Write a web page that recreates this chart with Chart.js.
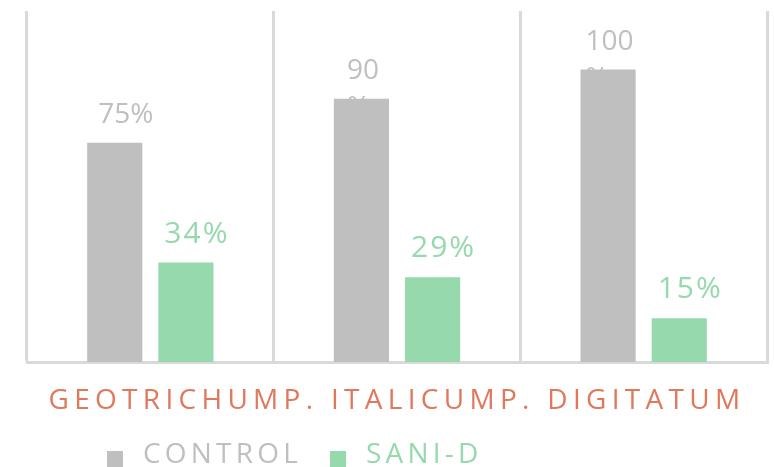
<!DOCTYPE html>
<html>
<head>
<meta charset="utf-8">
<script src="https://cdn.jsdelivr.net/npm/chart.js@4.4.1/dist/chart.umd.min.js"></script>
<style>
  body { margin: 0; background: #fff; }
  canvas { display: block; }
</style>
</head>
<body>
<canvas id="chart" width="774" height="467"></canvas>
<script>
// data
const categories = ['GEOTRICHUM', 'P. ITALICUM', 'P. DIGITATUM'];
const seriesNames = ['CONTROL', 'SANI-D'];
const controlValues = [75, 90, 100];
const saniValues = [34, 29, 15];
const controlLabels = [['75%'], ['90', '%'], ['100', '%']];
const saniLabels = [['34%'], ['29%'], ['15%']];
const yMax = 120;

const grey = '#bfbfbf';
const green = '#95d9ad';
const orange = '#e0785c';
const gridColor = '#d9d9d9';
const fontFamily = '"Open Sans", sans-serif';

const valueLabels = [controlLabels, saniLabels];
const labelFonts = ['28px ' + fontFamily, '30px ' + fontFamily];
const labelSpacing = ['0px', '2px'];

const labelsPlugin = {
    id: 'labels',
    // drawn before the bars so the wrapped "%" line hides behind them
    beforeDatasetsDraw(chart) {
        const ctx = chart.ctx;
        ctx.save();
        ctx.textBaseline = 'alphabetic';
        chart.data.datasets.forEach((ds, i) => {
            const meta = chart.getDatasetMeta(i);
            ctx.font = labelFonts[i];
            ctx.letterSpacing = labelSpacing[i];
            ctx.fillStyle = ds.backgroundColor;
            meta.data.forEach((bar, j) => {
                const lines = valueLabels[i][j];
                const y = bar.y - 20;
                if (lines.length == 1) {
                    ctx.textAlign = 'center';
                    ctx.fillText(lines[0], bar.x + 11, y);
                } else {
                    const w = ctx.measureText(lines[0]).width;
                    const left = bar.x + 1.5 - w / 2;
                    ctx.textAlign = 'left';
                    lines.forEach((t, k) => ctx.fillText(t, left, y + k * 37));
                }
            });
        });
        ctx.restore();
    },
    afterDraw(chart) {
        const ctx = chart.ctx;
        const area = chart.chartArea;
        ctx.save();

        // category names run together as one centred line
        ctx.font = '28px ' + fontFamily;
        ctx.letterSpacing = '5.3px';
        ctx.fillStyle = orange;
        ctx.textAlign = 'left';
        ctx.textBaseline = 'alphabetic';
        const widths = categories.map(c => ctx.measureText(c).width);
        const total = widths.reduce((a, b) => a + b, 0);
        let cx = (area.left + area.right) / 2 - total / 2;
        categories.forEach((c, i) => {
            ctx.fillText(c, cx, 409);
            cx += widths[i];
        });

        // legend
        ctx.letterSpacing = '4.2px';
        let x = 107;
        chart.data.datasets.forEach((ds) => {
            ctx.fillStyle = ds.backgroundColor;
            ctx.fillRect(x, 451, 16, 16);
            x += 36;
            ctx.fillText(ds.label, x, 463);
            x += ctx.measureText(ds.label).width + 28;
        });
        ctx.restore();
    }
};

new Chart(document.getElementById('chart'), {
    type: 'bar',
    data: {
        labels: categories,
        datasets: [
            { label: seriesNames[0], data: controlValues, backgroundColor: grey },
            { label: seriesNames[1], data: saniValues, backgroundColor: green }
        ]
    },
    options: {
        responsive: false,
        animation: false,
        layout: { padding: { left: 27, right: 7, top: 11, bottom: 105 } },
        datasets: {
            bar: { categoryPercentage: 0.577, barPercentage: 0.775 }
        },
        scales: {
            x: {
                grid: { display: true, offset: true, color: gridColor, lineWidth: 3, drawTicks: false },
                border: { display: true, color: gridColor, width: 3 },
                ticks: { display: false }
            },
            y: {
                display: false,
                min: 0,
                max: yMax
            }
        },
        plugins: {
            legend: { display: false },
            tooltip: { enabled: false }
        }
    },
    plugins: [labelsPlugin]
});
</script>
</body>
</html>
